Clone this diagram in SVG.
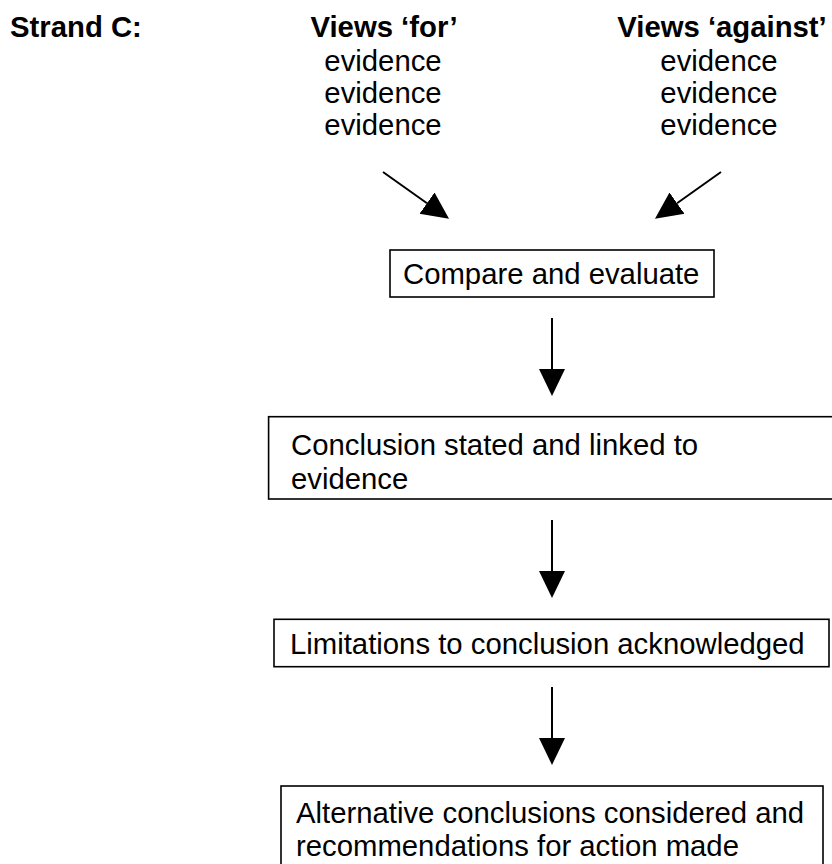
<svg xmlns="http://www.w3.org/2000/svg" width="832" height="864" viewBox="0 0 832 864">
<style>
text { font-family: "Liberation Sans", Arial, sans-serif; font-size: 29.3px; fill: #000; }
.b { font-weight: bold; }
.m { text-anchor: middle; }
.box { fill: #fff; stroke: #000; stroke-width: 1.6; }
.conn { stroke: #000; stroke-width: 2; fill: none; marker-end: url(#ah); }
</style>
<defs>
<marker id="ah" markerUnits="userSpaceOnUse" orient="auto" markerWidth="28" markerHeight="28" refX="0" refY="13" viewBox="0 0 28 26">
<path d="M0,0 L27,13 L0,26 z" fill="#000"/>
</marker>
</defs>
<rect width="832" height="864" fill="#fff"/>
<g id="header">
<text class="b" x="10" y="37">Strand C:</text>
</g>
<g id="views-for">
<text class="b m" x="384" y="37">Views ‘for’</text>
<text class="m" x="383" y="71">evidence</text>
<text class="m" x="383" y="103">evidence</text>
<text class="m" x="383" y="135">evidence</text>
</g>
<g id="views-against">
<text class="b m" x="722" y="37">Views ‘against’</text>
<text class="m" x="719" y="71">evidence</text>
<text class="m" x="719" y="103">evidence</text>
<text class="m" x="719" y="135">evidence</text>
</g>
<g id="connectors">
<line class="conn" x1="383" y1="172" x2="427" y2="203.2"/>
<line class="conn" x1="721" y1="172" x2="677" y2="203.2"/>
<line class="conn" x1="552" y1="318" x2="552" y2="369"/>
<line class="conn" x1="552" y1="520" x2="552" y2="571"/>
<line class="conn" x1="552" y1="687" x2="552" y2="738"/>
</g>
<g id="compare">
<rect class="box" x="390" y="250" width="324" height="47"/>
<text x="403" y="284">Compare and evaluate</text>
</g>
<g id="conclusion">
<rect class="box" x="268.6" y="416.7" width="580" height="82.3"/>
<text x="291" y="455">Conclusion stated and linked to</text>
<text x="291" y="489">evidence</text>
</g>
<g id="limitations">
<rect class="box" x="274" y="619.3" width="555" height="47.4"/>
<text x="290" y="654">Limitations to conclusion acknowledged</text>
</g>
<g id="alternative">
<rect class="box" x="281" y="786" width="542" height="100"/>
<text x="296" y="823">Alternative conclusions considered and</text>
<text x="296" y="856">recommendations for action made</text>
</g>
</svg>
